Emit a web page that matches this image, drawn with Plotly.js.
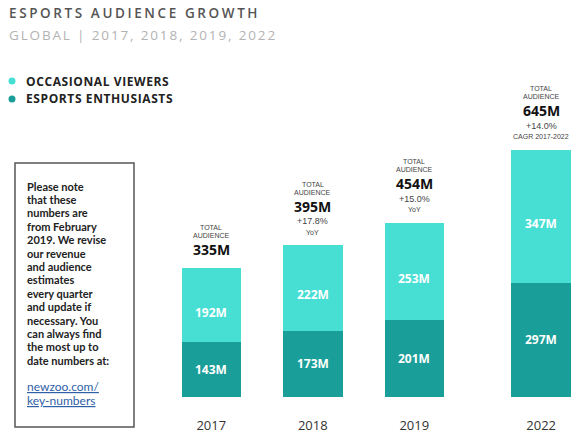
<!DOCTYPE html>
<html>
<head>
<meta charset="utf-8">
<script src="https://cdn.plot.ly/plotly-3.0.1.min.js"></script>
<style>body{margin:0;padding:0;background:#fff}#chart{width:580px;height:442px}</style>
</head>
<body>
<div id="chart"></div>
<script>
// ---- data ----
const years = ['2017', '2018', '2019', '2022'];
const enthusiasts = [143, 173, 201, 297];
const occasional = [192, 222, 253, 347];
const totalLabels = ['335M', '395M', '454M', '645M'];
const growth = ['', '+17.8%', '+15.0%', '+14.0%'];
const growthNote = ['', 'YoY', 'YoY', 'CAGR 2017-2022'];
const seriesNames = ['OCCASIONAL VIEWERS', 'ESPORTS ENTHUSIASTS'];
const noteLines = ['Please note', 'that these', 'numbers are', 'from February', '2019. We revise', 'our revenue',
  'and audience', 'estimates', 'every quarter', 'and update if', 'necessary. You', 'can always find',
  'the most up to', 'date numbers at:'];
const linkLines = ['newzoo.com/', 'key-numbers'];

// ---- layout helpers ----
const W = 580, H = 442, M = {l: 160, r: 0, t: 40, b: 45};
const PW = W - M.l - M.r, PH = H - M.t - M.b;
const px2x = p => (p - M.l) / PW;
const py2y = p => (H - M.b - p) / PH;
const LIGHT = '#47ded3', DARK = '#1a9e99';
const FONT = 'Open Sans, Liberation Sans, sans-serif';
const SMALL = 'Liberation Sans, Arial, sans-serif';
const NOTE = 'Lato, Open Sans, sans-serif';

// gap before the last category (2019 -> 2022)
const xpos = years.map((y, i) => i + (i === 3 ? 0.25 : 0));
const tops = enthusiasts.map((v, i) => v + occasional[i]);

const traces = [
  {type: 'bar', x: xpos, y: enthusiasts, name: seriesNames[1], marker: {color: DARK}, width: 0.586, hoverinfo: 'skip'},
  {type: 'bar', x: xpos, y: occasional, name: seriesNames[0], marker: {color: LIGHT}, width: 0.586, hoverinfo: 'skip'}
];

const ann = [];
const shapes = [];
function pAnn(text, px, py, font, extra) {
  ann.push(Object.assign({xref: 'paper', yref: 'paper', x: px2x(px), y: py2y(py), xanchor: 'left', yanchor: 'middle',
    text: text, showarrow: false, align: 'left', font: font}, extra || {}));
}
// titles
pAnn('ESPORTS AUDIENCE GROWTH', 7, 13, {family: FONT, size: 13.5, color: '#555555', weight: 600});
pAnn('GLOBAL | 2017, 2018, 2019, 2022', 7, 35, {family: FONT, size: 13.5, color: '#b3b3b3', weight: 400});
// legend
const legendColors = [LIGHT, DARK];
seriesNames.forEach((n, i) => {
  const cy = 81 + i * 18;
  shapes.push({type: 'circle', xref: 'paper', yref: 'paper', x0: px2x(8.5), x1: px2x(15.5), y0: py2y(cy - 3.5), y1: py2y(cy + 3.5),
    fillcolor: legendColors[i], line: {width: 0}});
  pAnn(n, 24, cy, {family: FONT, size: 12, color: '#222222', weight: 700});
});
// note box
shapes.push({type: 'rect', xref: 'paper', yref: 'paper', x0: px2x(15), x1: px2x(134), y0: py2y(427), y1: py2y(163),
  line: {color: '#555555', width: 1.5}, fillcolor: 'rgba(0,0,0,0)'});
noteLines.forEach((t, i) => pAnn(t, 25, 186 + i * 13.4, {family: NOTE, size: 11, color: '#222222', weight: 700}));
linkLines.forEach((t, i) => pAnn(t, 25, 386.7 + i * 13.4, {family: NOTE, size: 12, color: '#2f5fa6', weight: 400, lineposition: 'under'}));

// totals above bars
years.forEach((yr, i) => {
  const d = growth[i] ? 0 : 20;
  const base = {xref: 'x', yref: 'y', x: xpos[i], y: tops[i], showarrow: false, xanchor: 'center', yanchor: 'middle', borderpad: 0};
  ann.push(Object.assign({}, base, {text: 'TOTAL', yshift: 61 - d, font: {family: SMALL, size: 7, color: '#444'}}));
  ann.push(Object.assign({}, base, {text: 'AUDIENCE', yshift: 53 - d, font: {family: SMALL, size: 7, color: '#444'}}));
  ann.push(Object.assign({}, base, {text: totalLabels[i], yshift: 39 - d, font: {family: FONT, size: 14, color: '#111', weight: 700}}));
  if (growth[i]) {
    ann.push(Object.assign({}, base, {text: growth[i], yshift: 24, font: {family: SMALL, size: 9, color: '#444'}}));
    ann.push(Object.assign({}, base, {text: growthNote[i], yshift: 13, font: {family: SMALL, size: 7, color: '#444'}}));
  }
  // segment labels
  ann.push(Object.assign({}, base, {y: enthusiasts[i] / 2, text: enthusiasts[i] + 'M', font: {family: FONT, size: 12, color: '#fff', weight: 700}}));
  ann.push(Object.assign({}, base, {y: enthusiasts[i] + occasional[i] / 2, yshift: -7, text: occasional[i] + 'M', font: {family: FONT, size: 12, color: '#fff', weight: 700}}));
});

const layout = {
  width: W, height: H, margin: M, barmode: 'stack', showlegend: false,
  paper_bgcolor: '#fff', plot_bgcolor: '#fff',
  xaxis: {range: [-0.5054, -0.5054 + PW / 101.5], tickvals: xpos, ticktext: years, ticks: 'outside', ticklen: 16,
    tickcolor: 'rgba(0,0,0,0)', showgrid: false, zeroline: false, showline: false, fixedrange: true,
    tickfont: {family: FONT, size: 13, color: '#333'}},
  yaxis: {range: [0, PH / 0.384], visible: false, fixedrange: true},
  annotations: ann, shapes: shapes
};

Plotly.newPlot('chart', traces, layout, {displayModeBar: false, staticPlot: true}).then(() => {
  const spacing = {0: '2.6px', 1: '1.85px', 2: '0.6px', 3: '0.6px'};
  document.querySelectorAll('g.annotation').forEach(g => {
    const idx = g.getAttribute('data-index');
    if (spacing[idx] !== undefined) {
      g.querySelectorAll('text').forEach(t => t.style.letterSpacing = spacing[idx]);
    }
  });
});
</script>
</body>
</html>
